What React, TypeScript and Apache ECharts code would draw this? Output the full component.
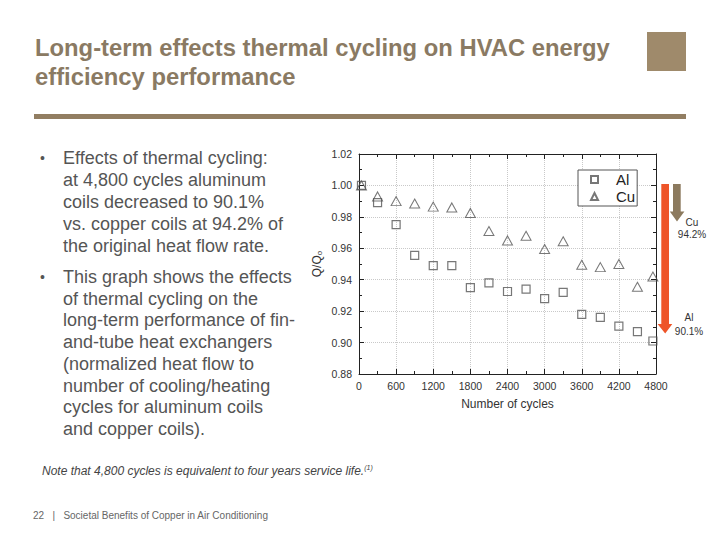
import { useEffect, useRef } from "react";
import * as echarts from "echarts";

// Normalized heat flow Q/Q0 versus number of thermal cycles
const cycles = [40, 300, 600, 900, 1200, 1500, 1800, 2100, 2400, 2700, 3000, 3300, 3600, 3900, 4200, 4500, 4750];
const alRatio = [1.0, 0.989, 0.975, 0.9555, 0.949, 0.949, 0.935, 0.938, 0.9325, 0.934, 0.928, 0.932, 0.918, 0.916, 0.9105, 0.907, 0.901];
const cuRatio = [1.0, 0.993, 0.99, 0.9885, 0.9865, 0.986, 0.9825, 0.971, 0.965, 0.968, 0.9595, 0.9645, 0.9495, 0.948, 0.95, 0.9355, 0.942];

const xRange = { min: 0, max: 4800, interval: 600 };
const yRange = { min: 0.88, max: 1.02, interval: 0.02 };

const seriesNames = ["Al", "Cu"];
const finalLabels = { cu: "Cu\n94.2%", al: "Al\n90.1%" };

const titleLines = ["Long-term effects thermal cycling on HVAC energy", "efficiency performance"];
const bulletOne = [
  "Effects of thermal cycling:",
  "at 4,800 cycles aluminum",
  "coils decreased to 90.1%",
  "vs. copper coils at 94.2% of",
  "the original heat flow rate.",
];
const bulletTwo = [
  "This graph shows the effects",
  "of thermal cycling on the",
  "long-term performance of fin-",
  "and-tube heat exchangers",
  "(normalized heat flow to",
  "number of cooling/heating",
  "cycles for aluminum coils",
  "and copper coils).",
];
const noteText = "Note that 4,800 cycles is equivalent to four years service life.";
const footerText = "22   |   Societal Benefits of Copper in Air Conditioning";

const FONT = "'Liberation Sans', Arial, sans-serif";
const TAN = "#9f8a6b";
const TITLE = "#8a7a63";
const BODY = "#555555";

export default function App() {
  const ref = useRef<HTMLDivElement>(null);

  useEffect(() => {
    const chart = echarts.init(ref.current!, null, { renderer: "svg" });

    const axisLine = { show: true, onZero: false, lineStyle: { color: "#222", width: 1 } };
    const axisTick = { show: true, inside: true, length: 5, lineStyle: { color: "#222" } };
    const minorTick = { show: true, splitNumber: 2, length: 3, lineStyle: { color: "#222" } };
    const splitLine = { show: true, lineStyle: { color: "#c9c9c9", type: "dotted" as const, width: 1 } };
    const tickLabel = { color: "#333", fontSize: 10.5, fontFamily: FONT };

    const lineText = (lines: string[], x: number, y0: number, step: number) =>
      lines.map((t, i) => ({
        type: "text",
        x,
        y: y0 + i * step,
        style: { text: t, fill: BODY, font: `18px ${FONT}`, verticalAlign: "middle" },
      }));

    const bullet = (y: number) => ({
      type: "text",
      x: 40,
      y,
      style: { text: "•", fill: BODY, font: `14px ${FONT}`, verticalAlign: "middle" },
    });

    const option: echarts.EChartsOption = {
      animation: false,
      backgroundColor: "#ffffff",
      grid: { left: 359, top: 154, width: 297, height: 220, containLabel: false },
      legend: {
        orient: "vertical",
        left: 578,
        top: 170,
        itemWidth: 7,
        itemHeight: 7,
        itemGap: 2,
        padding: [2, 2, 2, 12],
        borderColor: "#555",
        borderWidth: 1,
        backgroundColor: "#fff",
        textStyle: { fontSize: 15, color: "#222", fontFamily: FONT, padding: [0, 0, 0, 13] },
        data: [
          { name: seriesNames[0], icon: "rect" },
          { name: seriesNames[1], icon: "triangle" },
        ],
      },
      xAxis: [
        {
          type: "value",
          ...xRange,
          position: "bottom",
          axisLine,
          axisTick,
          minorTick,
          splitLine,
          axisLabel: { ...tickLabel, margin: 6, formatter: (v: number) => String(v) },
          name: "Number of cycles",
          nameLocation: "middle",
          nameGap: 24,
          nameTextStyle: { fontSize: 12, color: "#333", fontFamily: FONT },
        },
        {
          type: "value",
          ...xRange,
          position: "top",
          axisLine,
          axisTick,
          minorTick,
          splitLine: { show: false },
          axisLabel: { show: false },
        },
      ],
      yAxis: [
        {
          type: "value",
          ...yRange,
          position: "left",
          axisLine,
          axisTick,
          minorTick,
          splitLine,
          axisLabel: { ...tickLabel, margin: 7, formatter: (v: number) => v.toFixed(2) },
          name: "{q|Q/Q}{s|o}",
          nameLocation: "middle",
          nameRotate: 90,
          nameGap: 36,
          nameTextStyle: {
            fontFamily: FONT,
            color: "#333",
            rich: {
              q: { fontSize: 12, color: "#333", fontFamily: FONT },
              s: { fontSize: 8, color: "#333", fontFamily: FONT, verticalAlign: "bottom" },
            },
          },
        },
        {
          type: "value",
          ...yRange,
          position: "right",
          axisLine,
          axisTick,
          minorTick,
          splitLine: { show: false },
          axisLabel: { show: false },
        },
      ],
      series: [
        {
          name: seriesNames[0],
          type: "scatter",
          symbol: "rect",
          symbolSize: 8,
          itemStyle: { color: "transparent", borderColor: "#555", borderWidth: 1.2 },
          data: cycles.map((c, i) => [c, alRatio[i]]),
          z: 3,
        },
        {
          name: seriesNames[1],
          type: "scatter",
          symbol: "triangle",
          symbolSize: [10, 9],
          itemStyle: { color: "transparent", borderColor: "#555", borderWidth: 1 },
          data: cycles.map((c, i) => [c, cuRatio[i]]),
          z: 3,
        },
      ],
      graphic: [
        // header
        ...titleLines.map((t, i) => ({
          type: "text",
          x: 35,
          y: 47 + i * 29,
          style: { text: t, fill: TITLE, font: `bold 23.8px ${FONT}`, verticalAlign: "middle" },
        })),
        { type: "rect", shape: { x: 647, y: 32, width: 39, height: 39 }, style: { fill: TAN } },
        { type: "rect", shape: { x: 34, y: 114, width: 652, height: 5 }, style: { fill: "#927e62" } },
        // bullets
        bullet(158),
        ...lineText(bulletOne, 63, 158, 22),
        bullet(277),
        ...lineText(bulletTwo, 63, 277, 21.7),
        // note and footer
        {
          type: "text",
          x: 42,
          y: 471,
          style: {
            text: `{n|${noteText}}{s|(1)}`,
            fill: "#444",
            verticalAlign: "middle",
            rich: {
              n: { font: `italic 12px ${FONT}`, fill: "#444", lineHeight: 15 },
              s: { font: `italic 7px ${FONT}`, fill: "#444", verticalAlign: "top", lineHeight: 15 },
            },
          },
        },
        {
          type: "text",
          x: 33,
          y: 515,
          style: { text: footerText, fill: "#666", font: `10px ${FONT}`, verticalAlign: "middle" },
        },
        // decline arrows
        {
          type: "polygon",
          shape: {
            points: [
              [661.3, 184], [669, 184], [669, 324], [672.3, 324], [665.2, 333.5], [657.6, 324], [661.3, 324],
            ],
          },
          style: { fill: "#ee5529" },
        },
        {
          type: "polygon",
          shape: {
            points: [
              [673, 184], [680.7, 184], [680.7, 211.5], [684.4, 211.5], [677, 221.5], [669.8, 211.5], [673, 211.5],
            ],
          },
          style: { fill: "#8c7a5e" },
        },
        {
          type: "text",
          x: 692,
          y: 228.5,
          style: { text: finalLabels.cu, fill: "#333", font: `10px ${FONT}`, align: "center", verticalAlign: "middle", lineHeight: 12.5 },
        },
        {
          type: "text",
          x: 689,
          y: 324,
          style: { text: finalLabels.al, fill: "#333", font: `10px ${FONT}`, align: "center", verticalAlign: "middle", lineHeight: 14 },
        },
      ] as any,
    };

    chart.setOption(option);
    return () => chart.dispose();
  }, []);

  return (
    <div
      ref={ref}
      style={{ position: "fixed", left: 0, top: 0, width: 720, height: 540, background: "#fff" }}
    />
  );
}
